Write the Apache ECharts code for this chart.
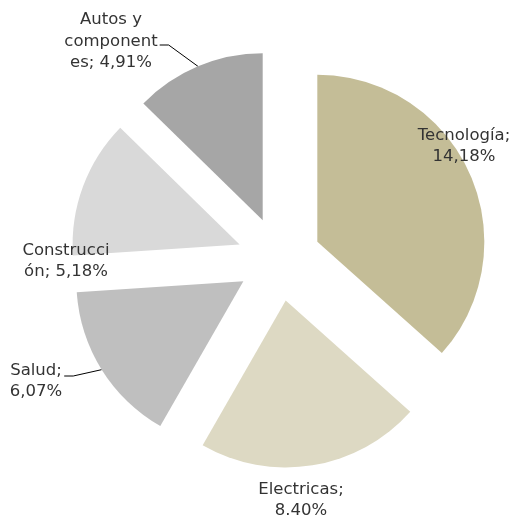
<!DOCTYPE html>
<html>
<head>
<meta charset="utf-8">
<script src="https://cdn.jsdelivr.net/npm/echarts@6/dist/echarts.min.js"></script>
<style>html,body{margin:0;padding:0;background:#fff}#c{width:516px;height:517px}</style>
</head>
<body>
<div id="c"></div>
<script>
const categories = ['Tecnología', 'Electricas', 'Salud', 'Construcción', 'Autos y componentes'];
const values = [14.18, 8.40, 6.07, 5.18, 4.91];
const labelTexts = ['Tecnología;\n14,18%', 'Electricas;\n8.40%', 'Salud;\n6,07%', 'Construcci\nón; 5,18%', 'Autos y\ncomponent\nes; 4,91%'];
const colors = ['#c4bd97', '#ddd9c3', '#bfbfbf', '#d9d9d9', '#a6a6a6'];
const showLine = [false, false, true, false, true];
const labelPos = [[464, 146], [301, 500], [36, 381], [66, 261], [111, 41.5]];
// vertical offset of the leader line's label end relative to label centre
const lineDy = [0, 0, -5, 0, 3.5];

const CX = 279, CY = 259, R = 167, EXPLODE = 42;
const total = values.reduce((a, b) => a + b, 0);
let cum = 0;
const series = categories.map((name, k) => {
  const mid = (cum + values[k] / 2) / total * 2 * Math.PI;
  cum += values[k];
  return {
    type: 'pie',
    center: [CX + EXPLODE * Math.sin(mid), CY - EXPLODE * Math.cos(mid)],
    radius: R,
    startAngle: 90,
    clockwise: true,
    avoidLabelOverlap: false,
    silent: true,
    label: {
      show: true,
      position: 'outside',
      fontFamily: 'DejaVu Sans',
      fontSize: 16.5,
      lineHeight: 21.5,
      color: '#333',
      align: 'center'
    },
    labelLine: { show: true, lineStyle: { color: '#000', width: 1 } },
    labelLayout: function (p) {
      const i = p.dataIndex;
      const out = { x: labelPos[i][0], y: labelPos[i][1], align: 'center', verticalAlign: 'middle' };
      if (showLine[i] && p.labelLinePoints) {
        const right = labelPos[i][0] + p.labelRect.width / 2;
        const y = labelPos[i][1] + lineDy[i];
        const edge = p.labelLinePoints[0];
        out.labelLinePoints = [edge, [right + 11, y], [right + 2, y]];
      }
      return out;
    },
    data: categories.map((n, i) => ({
      name: n,
      value: values[i],
      itemStyle: { color: colors[i], opacity: i === k ? 1 : 0 },
      label: { show: i === k, formatter: labelTexts[i] },
      labelLine: { show: i === k && showLine[i] }
    }))
  };
});

const chart = echarts.init(document.getElementById('c'));
chart.setOption({ animation: false, series: series });
</script>
</body>
</html>
